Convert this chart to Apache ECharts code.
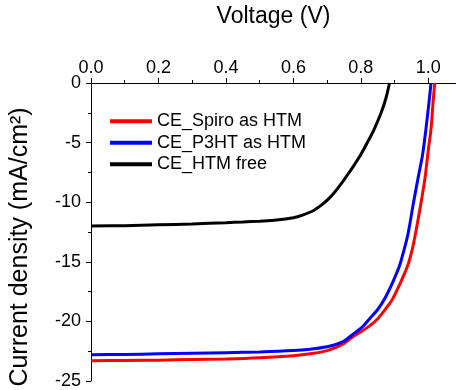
<!DOCTYPE html>
<html>
<head>
<meta charset="utf-8">
<script src="https://cdn.jsdelivr.net/npm/echarts@6/dist/echarts.min.js"></script>
<style>
html,body{margin:0;padding:0;background:#fff;}
#c{width:456px;height:390px;}
</style>
</head>
<body>
<div id="c"></div>
<script>
var seriesNames = ['CE_Spiro as HTM', 'CE_P3HT as HTM', 'CE_HTM free'];
var xTitle = 'Voltage (V)';
var yTitle = 'Current density (mA/cm\u00B2)';

var spiroV = [0, 0.1, 0.2, 0.3, 0.4, 0.5, 0.6, 0.65, 0.7, 0.724, 0.75, 0.773, 0.8, 0.825, 0.85, 0.872, 0.894, 0.915, 0.938, 0.952, 0.962, 0.978, 0.990, 1.000, 1.008, 1.014, 1.019];
var spiroJ = [-23.3, -23.28, -23.25, -23.2, -23.15, -23.05, -22.88, -22.72, -22.45, -22.2, -21.85, -21.35, -20.87, -20.4, -19.77, -19.0, -18.12, -16.9, -15.38, -14.0, -12.63, -10.1, -8.0, -5.6, -3.84, -1.6, 0];

var p3htV = [0, 0.1, 0.2, 0.3, 0.4, 0.5, 0.6, 0.65, 0.7, 0.724, 0.75, 0.78, 0.805, 0.826, 0.85, 0.87, 0.893, 0.914, 0.928, 0.940, 0.955, 0.970, 0.983, 0.994, 1.002, 1.008];
var p3htJ = [-22.8, -22.77, -22.72, -22.67, -22.62, -22.56, -22.45, -22.33, -22.12, -21.95, -21.65, -21.0, -20.45, -19.77, -19.0, -18.12, -16.8, -15.38, -14.0, -12.63, -10.2, -7.9, -6.0, -3.6, -1.6, 0];

var freeV = [0, 0.1, 0.2, 0.3, 0.4, 0.45, 0.5, 0.55, 0.6, 0.627, 0.66, 0.685, 0.705, 0.724, 0.743, 0.763, 0.782, 0.80, 0.82, 0.84, 0.86, 0.874, 0.885];
var freeJ = [-12.0, -11.97, -11.9, -11.82, -11.72, -11.66, -11.59, -11.5, -11.3, -11.08, -10.7, -10.2, -9.7, -9.1, -8.4, -7.6, -6.8, -6.0, -4.95, -3.84, -2.5, -1.3, 0];

var colors = ['#ff0000', '#0000ff', '#000000'];

function pairs(xs, ys) {
  var out = [];
  for (var i = 0; i < xs.length; i++) out.push([xs[i], ys[i]]);
  return out;
}

var allV = [spiroV, p3htV, freeV];
var allJ = [spiroJ, p3htJ, freeJ];
var FONT = 'Liberation Sans';

var chart = echarts.init(document.getElementById('c'));
chart.setOption({
  animation: false,
  backgroundColor: '#fff',
  grid: { left: 85, top: 80, right: 0, bottom: 6.5, containLabel: false },
  legend: {
    orient: 'vertical',
    left: 105,
    top: 105.5,
    icon: 'rect',
    itemWidth: 42,
    itemHeight: 4,
    itemGap: 0,
    textStyle: { fontFamily: FONT, fontSize: 18, color: '#000', lineHeight: 21.5 },
    data: seriesNames
  },
  xAxis: {
    type: 'value',
    position: 'top',
    min: 0, max: 1.082, interval: 0.2,
    name: xTitle,
    nameLocation: 'middle',
    nameGap: 55,
    nameTextStyle: { fontFamily: FONT, fontSize: 23, color: '#000' },
    axisLine: { show: true, lineStyle: { color: '#000', width: 1 } },
    axisTick: { show: true, inside: false, length: 5, lineStyle: { color: '#000' } },
    minorTick: { show: true, splitNumber: 2, length: 3, lineStyle: { color: '#000' } },
    splitLine: { show: false },
    axisLabel: { fontFamily: FONT, fontSize: 18, color: '#000', margin: 6, showMaxLabel: false,
      formatter: function (v) { return v.toFixed(1); } }
  },
  yAxis: {
    type: 'value',
    min: -25, max: 0, interval: 5,
    name: yTitle,
    nameLocation: 'middle',
    nameGap: 58,
    nameRotate: 90,
    nameTextStyle: { fontFamily: FONT, fontSize: 25, color: '#000', padding: [0, 30, 0, 0] },
    axisLine: { show: true, onZero: false, lineStyle: { color: '#000', width: 1 } },
    axisTick: { show: true, inside: false, length: 5, lineStyle: { color: '#000' } },
    minorTick: { show: true, splitNumber: 2, length: 3, lineStyle: { color: '#000' } },
    splitLine: { show: false },
    axisLabel: { fontFamily: FONT, fontSize: 18, color: '#000', margin: 10 }
  },
  series: seriesNames.map(function (n, i) {
    return {
      name: n,
      type: 'line',
      smooth: 0.3,
      showSymbol: false,
      symbol: 'none',
      color: colors[i],
      lineStyle: { color: colors[i], width: 3 },
      data: pairs(allV[i], allJ[i])
    };
  })
});
</script>
</body>
</html>
